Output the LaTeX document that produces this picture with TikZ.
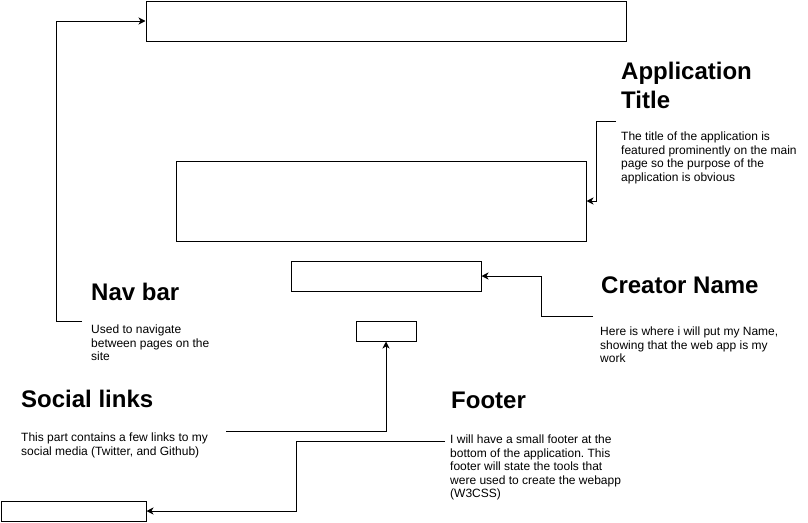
\documentclass[tikz,border=0pt]{standalone}
\usepackage{fontspec}
\setmainfont{Liberation Sans}
\usetikzlibrary{arrows.meta}
\frenchspacing
\begin{document}
\begin{tikzpicture}[x=1pt,y=-1pt]
\tikzset{boite/.style={draw, line width=1pt, inner sep=0pt},
titre/.style={anchor=north west, inner sep=0pt, align=left, font=\fontsize{24}{28.8}\selectfont\bfseries},
texte/.style={anchor=north west, inner sep=0pt, align=left, font=\fontsize{12}{13.5}\selectfont},
fleche/.style={line width=1pt, -{Stealth[length=7pt,width=7pt,inset=2pt]}}}
\useasboundingbox (0,0) rectangle (808,522);
% les boites de la page
\node[boite, minimum width=480pt, minimum height=40pt] (Nav) at (386,21) {};
\node[boite, minimum width=410pt, minimum height=80pt] (Title) at (381,201) {};
\node[boite, minimum width=190pt, minimum height=30pt] (Creator) at (386,276) {};
\node[boite, minimum width=60pt, minimum height=20pt] (Social) at (386,331) {};
\node[boite, minimum width=145pt, minimum height=20pt] (Footer) at (73.5,511) {};
% les textes
\node[titre] (TitleH) at (621,62) {Application\\Title};
\node[texte] (TitleT) at (621,132) {The title of the application is\\featured prominently on the main\\page so the purpose of the\\application is obvious};
\node[titre] (NavH) at (91,283) {Nav bar};
\node[texte] (NavT) at (91,325) {Used to navigate\\between pages on the\\site};
\node[titre] (CreatorH) at (601,277) {Creator Name};
\node[texte] (CreatorT) at (600,327) {Here is where i will put my Name,\\showing that the web app is my\\work};
\node[titre] (SocialH) at (21,390) {Social links};
\node[texte] (SocialT) at (21,433) {This part contains a few links to my\\social media (Twitter, and Github)};
\node[titre] (FooterH) at (451,392) {Footer};
\node[texte] (FooterT) at (450,435) {I will have a small footer at the\\bottom of the application. This\\footer will state the tools that\\were used to create the webapp\\(W3CSS)};
% les departs des fleches
\coordinate (NavS) at (82,321);
\coordinate (TitleS) at (616,121);
\coordinate (CreatorS) at (593,316);
\coordinate (SocialS) at (226,431);
\coordinate (FooterS) at (445,441);
\draw[fleche] (NavS) -- ++(-26,0) |- (Nav.west);
\draw[fleche] (TitleS) -- ++(-20,0) |- (Title.east);
\draw[fleche] (CreatorS) -- ++(-52,0) |- (Creator.east);
\draw[fleche] (SocialS) -| (Social.south);
\draw[fleche] (FooterS) -- ++(-149,0) |- (Footer.east);
\end{tikzpicture}
\end{document}
